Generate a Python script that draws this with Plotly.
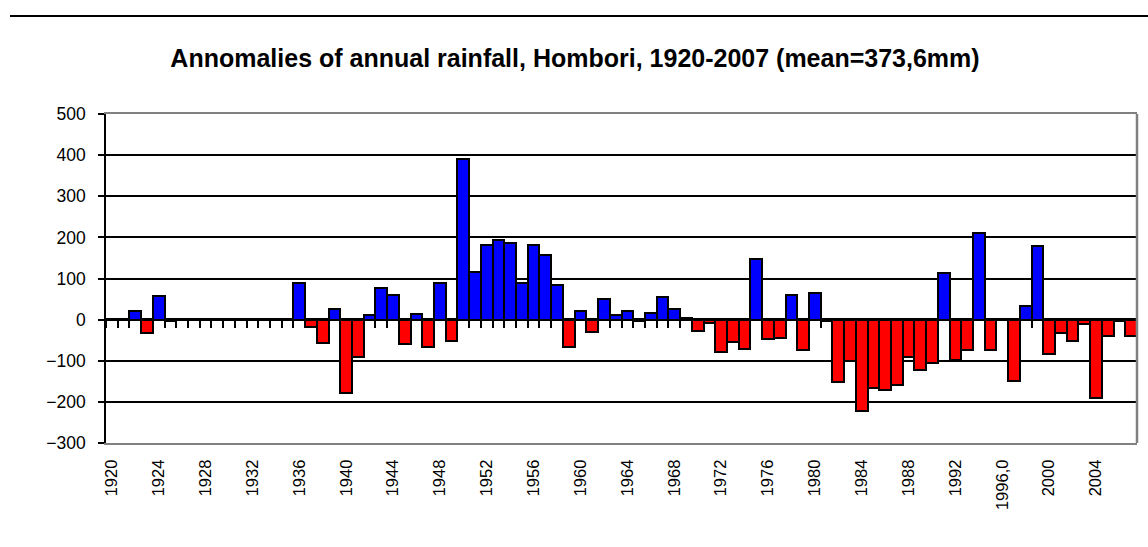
import plotly.graph_objects as go

years = list(range(1920, 2008))
anomalies = [
    None, None, 20, -33, 58, -4,
    None, None, None, None, None, None, None, None, None, None,
    90, -19, -56, 27, -178, -90, 11, 78, 60, -59,
    14, -67, 88, -51, 390, 115, 181, 194, 186, 90,
    182, 158, 84, -67, 22, -29, 49, 11, 22, -3,
    15, 54, 27, 3, -28, -9, -79, -55, -71, 148,
    -48, -45, 60, -73, 65, -4, -152, -101, -222, -166,
    -170, -158, -91, -123, -105, 114, -97, -73, 211, -75,
    0, -149, 34, 179, -83, -33, -53, -10, -190, -40,
    -3, -39,
]
assert len(anomalies) == len(years)

tick_years = list(range(1920, 2005, 4))
tick_labels = [("1996,0" if y == 1996 else str(y)) for y in tick_years]
y_ticks = [500, 400, 300, 200, 100, 0, -100, -200, -300]
title_text = "Annomalies of annual rainfall, Hombori, 1920-2007 (mean=373,6mm)"

pos_color = "#0000FF"
neg_color = "#FF0000"
colors = [(neg_color if (v is not None and v < 0) else pos_color) for v in anomalies]

W, H = 1148, 547
L, R, T, B = 106, 11, 114, 104
y_lo, y_hi = -300, 500
x_lo, x_hi = years[0] - 0.5, years[-1] + 0.5

fig = go.Figure()
fig.add_trace(go.Bar(
    x=years, y=anomalies, width=1.0,
    marker=dict(color=colors, line=dict(color="black", width=2)),
    showlegend=False,
))
# carrier for the category-boundary tick axis along zero
fig.add_trace(go.Scatter(
    x=years, y=[None] * len(years), xaxis="x2", yaxis="y",
    mode="markers", showlegend=False, hoverinfo="skip",
))

font_family = "Liberation Sans, Arial, sans-serif"
fig.update_layout(
    width=W, height=H,
    margin=dict(l=L, r=R, t=T, b=B, pad=0),
    paper_bgcolor="white", plot_bgcolor="white",
    bargap=0,
    title=dict(text="<b>" + title_text + "</b>", x=575 / W, xref="container", xanchor="center",
               y=1 - 58 / H, yref="container", yanchor="middle",
               font=dict(family=font_family, size=25, color="black")),
    xaxis=dict(
        range=[x_lo, x_hi], tickmode="array", tickvals=tick_years, ticktext=tick_labels,
        tickangle=-90, tickfont=dict(family=font_family, size=16.5, color="black"),
        ticks="", ticklabelstandoff=8,
        showgrid=False, zeroline=False,
        showline=True, linecolor="#808080", linewidth=2, mirror=True,
    ),
    xaxis2=dict(
        range=[x_lo, x_hi], overlaying="x", anchor="free",
        position=(0 - y_lo) / (y_hi - y_lo), side="bottom",
        tickmode="array", tickvals=[y - 0.5 for y in years] + [x_hi],
        ticks="outside", ticklen=7, tickwidth=1.5, tickcolor="black",
        showticklabels=False, showgrid=False, zeroline=False, showline=False,
    ),
    yaxis=dict(
        range=[y_lo, y_hi], tickmode="array", tickvals=y_ticks,
        tickfont=dict(family=font_family, size=17.5, color="black"),
        ticks="outside", ticklen=6, tickwidth=2, tickcolor="black",
        ticklabelstandoff=9,
        showgrid=True, gridcolor="black", gridwidth=2,
        zeroline=True, zerolinecolor="black", zerolinewidth=2.5,
        showline=True, linecolor="black", linewidth=1.5,
    ),
    shapes=[
        dict(type="line", xref="paper", yref="paper", x0=1, x1=1, y0=0, y1=1,
             line=dict(color="#808080", width=2.5)),
        dict(type="line", xref="paper", yref="paper",
             x0=(10 - L) / (W - L - R), x1=(W - L) / (W - L - R),
             y0=(H - B - 16) / (H - T - B), y1=(H - B - 16) / (H - T - B),
             line=dict(color="black", width=2)),
    ],
)

fig.write_html("out.html", config={"displayModeBar": False},
               post_script="document.body.style.margin='0';document.body.style.overflow='hidden';")
